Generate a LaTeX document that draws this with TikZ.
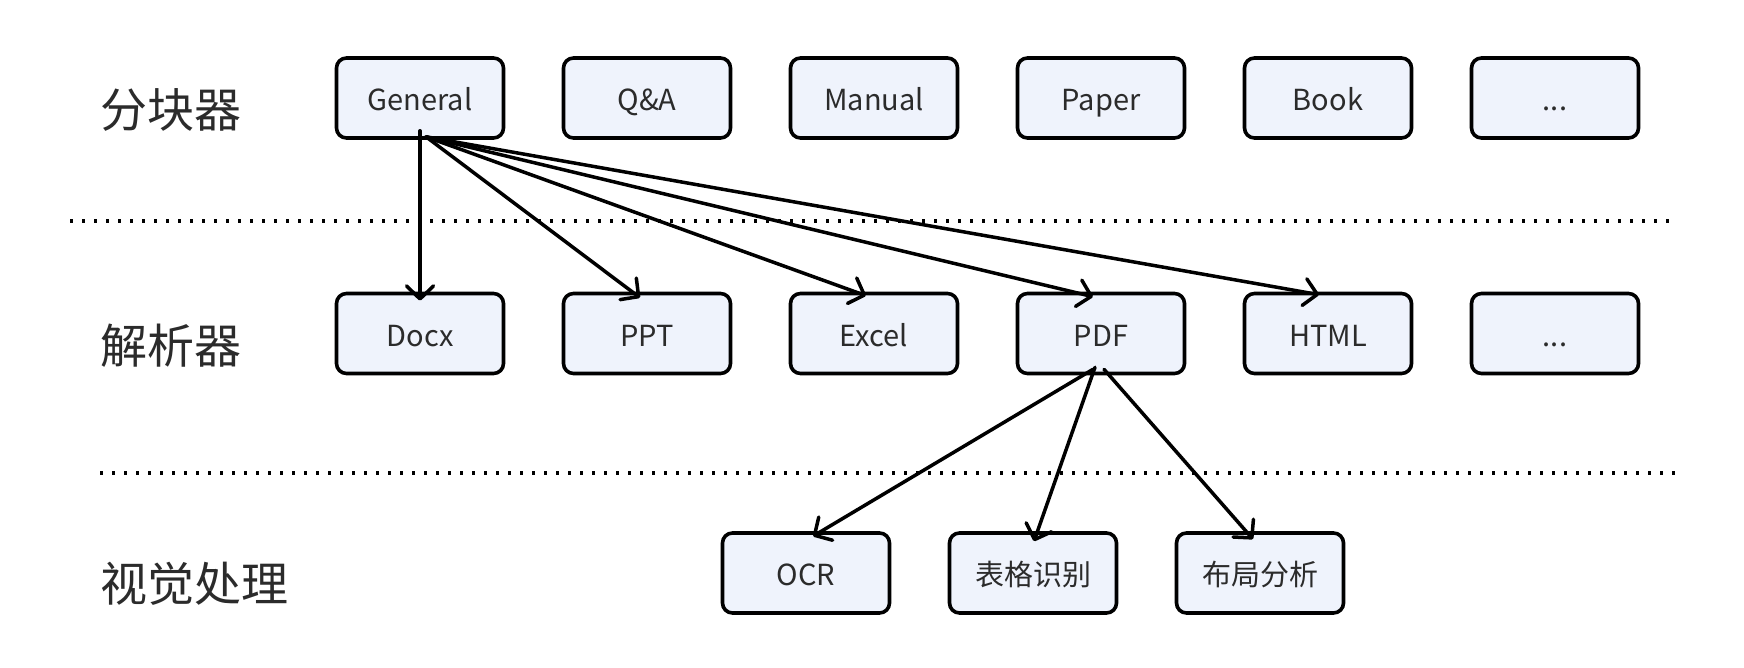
\documentclass[tikz,border=0pt]{standalone}
\usepackage{fontspec}
\setmainfont{Noto Sans CJK SC}
\usetikzlibrary{arrows.meta}
\definecolor{boxfill}{HTML}{EFF3FC}
\definecolor{txt}{HTML}{2B2B2B}
\tikzset{
  box/.style={draw=black, line width=3.6pt, fill=boxfill, rounded corners=10pt,
    minimum width=167pt, minimum height=80pt, inner sep=0pt, text=txt,
    text height=31pt, text depth=6pt,
    font=\fontsize{29}{34}\selectfont},
  rowlabel/.style={anchor=west, inner sep=0pt, text=txt, font=\fontsize{47}{54}\selectfont},
  arr/.style={line width=3.5pt, line cap=round,
    -{Straight Barb[length=13pt,width=27pt,line width=3.5pt,round]}},
  sep/.style={line width=3.2pt, dash pattern=on 3pt off 9pt}
}
\begin{document}
\begin{tikzpicture}[x=1pt,y=-1pt]
\useasboundingbox (0,0) rectangle (1744,668);
% row labels
\node[rowlabel] (L1) at (100,110) {分块器};
\node[rowlabel] (L2) at (100,346) {解析器};
\node[rowlabel] (L3) at (100,584) {视觉处理};
% separators
\coordinate (s1a) at (70,221); \coordinate (s1b) at (1674,221);
\coordinate (s2a) at (100,473); \coordinate (s2b) at (1678,473);
\draw[sep] (s1a) -- (s1b);
\draw[sep] (s2a) -- (s2b);
% top row
\node[box] (General) at (420,98) {General};
\node[box] (QA) at (647,98) {Q\&A};
\node[box] (Manual) at (874,98) {Manual};
\node[box] (Paper) at (1101,98) {Paper};
\node[box] (Book) at (1328,98) {Book};
\node[box] (Etc1) at (1555,98) {...};
% middle row
\node[box] (Docx) at (420,333.5) {Docx};
\node[box] (PPT) at (647,333.5) {PPT};
\node[box] (Excel) at (874,333.5) {Excel};
\node[box] (PDF) at (1101,333.5) {PDF};
\node[box] (HTML) at (1328,333.5) {HTML};
\node[box] (Etc2) at (1555,333.5) {...};
% bottom row
\node[box] (OCR) at (806,573) {OCR};
\node[box] (Table) at (1033,573) {表格识别};
\node[box] (Layout) at (1260,573) {布局分析};
% arrows from General
\draw[arr] ([yshift=9]General.south) -- ([yshift=-9]Docx.north);
\draw[arr] ([xshift=6,yshift=3]General.south) -- ([xshift=-7,yshift=-6]PPT.north);
\draw[arr] ([xshift=6,yshift=3]General.south) -- ([xshift=-8,yshift=-4]Excel.north);
\draw[arr] ([xshift=6,yshift=3]General.south) -- ([xshift=-8,yshift=-5]PDF.north);
\draw[arr] ([xshift=6,yshift=3]General.south) -- ([xshift=-9,yshift=-3]HTML.north);
% arrows from PDF
\draw[arr] ([xshift=-8,yshift=6]PDF.south) -- ([xshift=7,yshift=-5]OCR.north);
\draw[arr] ([xshift=-6,yshift=8]PDF.south) -- ([xshift=1,yshift=-10]Table.north);
\draw[arr] ([xshift=3,yshift=6]PDF.south) -- ([xshift=-7,yshift=-8]Layout.north);
\end{tikzpicture}
\end{document}
